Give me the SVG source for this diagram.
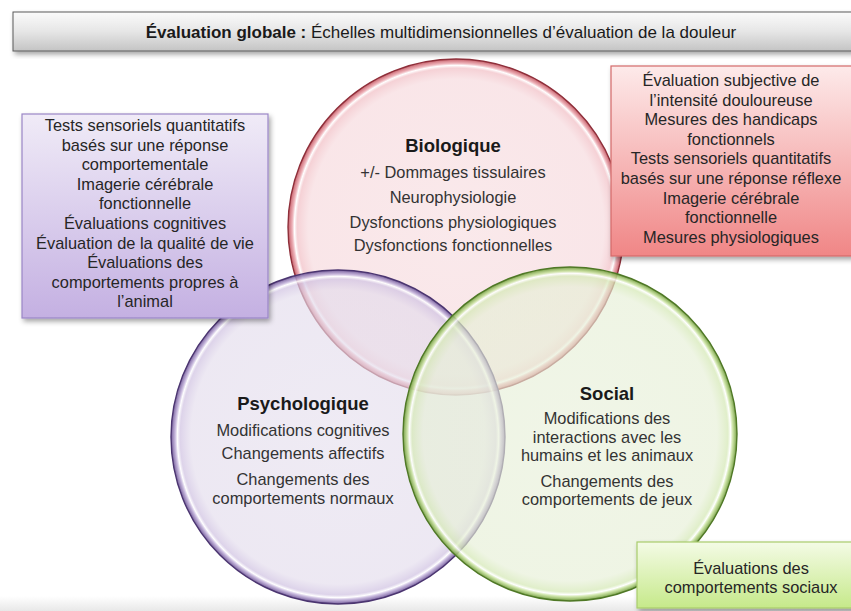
<svg xmlns="http://www.w3.org/2000/svg" width="851" height="611" viewBox="0 0 851 611">
<style>
text{font-family:"Liberation Sans",Arial,sans-serif;fill:#262626;text-anchor:middle}
.h{font-size:18.5px;font-weight:bold;fill:#1a1a1a}
.c{font-size:16.4px;fill:#333}
.b{font-size:16.4px;fill:#262626}
.t{font-size:17px;fill:#1a1a1a}
</style>
<defs>
<filter id="sh" x="-10%" y="-10%" width="125%" height="130%">
<feDropShadow dx="2" dy="3" stdDeviation="2.5" flood-color="#000" flood-opacity="0.35"/>
</filter>
<linearGradient id="gTitle" x1="0" y1="0" x2="0" y2="1">
<stop offset="0" stop-color="#fbfbfb"/><stop offset="0.5" stop-color="#e6e6e6"/><stop offset="1" stop-color="#c4c4c4"/>
</linearGradient>
<linearGradient id="gPurple" x1="0" y1="0" x2="0" y2="1">
<stop offset="0" stop-color="#f0ebf7"/><stop offset="1" stop-color="#c4b0e2"/>
</linearGradient>
<linearGradient id="gRed" x1="0" y1="0" x2="0" y2="1">
<stop offset="0" stop-color="#fdeaea"/><stop offset="1" stop-color="#f08686"/>
</linearGradient>
<linearGradient id="gGreen" x1="0" y1="0" x2="0" y2="1">
<stop offset="0" stop-color="#f4fbe6"/><stop offset="1" stop-color="#c6e98a"/>
</linearGradient>
<linearGradient id="gFoot" x1="0" y1="0" x2="0" y2="1">
<stop offset="0" stop-color="#ffffff"/><stop offset="1" stop-color="#e8e8e8"/>
</linearGradient>
<radialGradient id="rRed">
<stop offset="0" stop-color="#f7dde0" stop-opacity="0.65"/>
<stop offset="0.88" stop-color="#f6d8dc" stop-opacity="0.65"/>
<stop offset="0.945" stop-color="#f2c2c8" stop-opacity="0.75"/>
<stop offset="0.962" stop-color="#ffffff" stop-opacity="0.9"/>
<stop offset="0.975" stop-color="#eaa4ac" stop-opacity="0.85"/>
<stop offset="1" stop-color="#c25560" stop-opacity="0.95"/>
</radialGradient>
<radialGradient id="rPurple">
<stop offset="0" stop-color="#e6e0ee" stop-opacity="0.65"/>
<stop offset="0.88" stop-color="#e3dcec" stop-opacity="0.65"/>
<stop offset="0.945" stop-color="#d2c5e3" stop-opacity="0.75"/>
<stop offset="0.962" stop-color="#ffffff" stop-opacity="0.9"/>
<stop offset="0.975" stop-color="#bfaed8" stop-opacity="0.85"/>
<stop offset="1" stop-color="#6e5596" stop-opacity="0.95"/>
</radialGradient>
<radialGradient id="rGreen">
<stop offset="0" stop-color="#e8f0da" stop-opacity="0.65"/>
<stop offset="0.88" stop-color="#e6efd6" stop-opacity="0.65"/>
<stop offset="0.945" stop-color="#d6e9b8" stop-opacity="0.75"/>
<stop offset="0.962" stop-color="#ffffff" stop-opacity="0.9"/>
<stop offset="0.975" stop-color="#c4df98" stop-opacity="0.85"/>
<stop offset="1" stop-color="#6f9a3c" stop-opacity="0.95"/>
</radialGradient>
</defs>
<rect width="851" height="611" fill="#ffffff"/>
<rect x="0" y="596" width="851" height="15" fill="url(#gFoot)"/>

<g id="title">
<rect x="13" y="12" width="850" height="39" fill="url(#gTitle)" stroke="#5a5a5a" stroke-width="1" filter="url(#sh)"/>
<text class="t" x="441" y="38"><tspan font-weight="bold">Évaluation globale :</tspan> Échelles multidimensionnelles d’évaluation de la douleur</text>
</g>

<g id="biologique">
<circle cx="456" cy="227" r="168" fill="url(#rRed)" stroke="#8e2f3a" stroke-width="1.4"/>
<text class="h" x="453" y="152">Biologique</text>
<text class="c" x="453" y="178">+/- Dommages tissulaires</text>
<text class="c" x="453" y="203">Neurophysiologie</text>
<text class="c" x="453" y="228">Dysfonctions physiologiques</text>
<text class="c" x="453" y="251">Dysfonctions fonctionnelles</text>
</g>

<g id="psychologique">
<circle cx="338" cy="437" r="167" fill="url(#rPurple)" stroke="#4b3570" stroke-width="1.4"/>
<text class="h" x="303" y="410">Psychologique</text>
<text class="c" x="303" y="436">Modifications cognitives</text>
<text class="c" x="303" y="459">Changements affectifs</text>
<text class="c" x="303" y="485">Changements des</text>
<text class="c" x="303" y="503.5">comportements normaux</text>
</g>

<g id="social">
<circle cx="570" cy="434" r="167" fill="url(#rGreen)" stroke="#4f7826" stroke-width="1.4"/>
<text class="h" x="607" y="400">Social</text>
<text class="c" x="607" y="424">Modifications des</text>
<text class="c" x="607" y="442.5">interactions avec les</text>
<text class="c" x="607" y="461">humains et les animaux</text>
<text class="c" x="607" y="486.5">Changements des</text>
<text class="c" x="607" y="505">comportements de jeux</text>
</g>

<g id="connectors"></g>

<g id="box-psychologique">
<rect x="22" y="114" width="246" height="204" fill="url(#gPurple)" stroke="#9a86c6" stroke-width="1.2" filter="url(#sh)"/>
<text class="b" x="145" y="131">Tests sensoriels quantitatifs</text>
<text class="b" x="145" y="150.6">basés sur une réponse</text>
<text class="b" x="145" y="170.2">comportementale</text>
<text class="b" x="145" y="189.8">Imagerie cérébrale</text>
<text class="b" x="145" y="209.4">fonctionnelle</text>
<text class="b" x="145" y="229">Évaluations cognitives</text>
<text class="b" x="145" y="248.6">Évaluation de la qualité de vie</text>
<text class="b" x="145" y="268.2">Évaluations des</text>
<text class="b" x="145" y="287.8">comportements propres à</text>
<text class="b" x="145" y="307.4">l’animal</text>
</g>

<g id="box-biologique">
<rect x="611" y="66" width="250" height="190" fill="url(#gRed)" stroke="#d46a6a" stroke-width="1.2" filter="url(#sh)"/>
<text class="b" x="731" y="86">Évaluation subjective de</text>
<text class="b" x="731" y="105.6">l’intensité douloureuse</text>
<text class="b" x="731" y="125.2">Mesures des handicaps</text>
<text class="b" x="731" y="144.8">fonctionnels</text>
<text class="b" x="731" y="164.4">Tests sensoriels quantitatifs</text>
<text class="b" x="731" y="184">basés sur une réponse réflexe</text>
<text class="b" x="731" y="203.6">Imagerie cérébrale</text>
<text class="b" x="731" y="223.2">fonctionnelle</text>
<text class="b" x="731" y="242.8">Mesures physiologiques</text>
</g>

<g id="box-social">
<rect x="637" y="542" width="224" height="66" fill="url(#gGreen)" stroke="#a8cc6c" stroke-width="1.2" filter="url(#sh)"/>
<text class="b" x="751" y="573.5">Évaluations des</text>
<text class="b" x="751" y="592.5">comportements sociaux</text>
</g>
</svg>
